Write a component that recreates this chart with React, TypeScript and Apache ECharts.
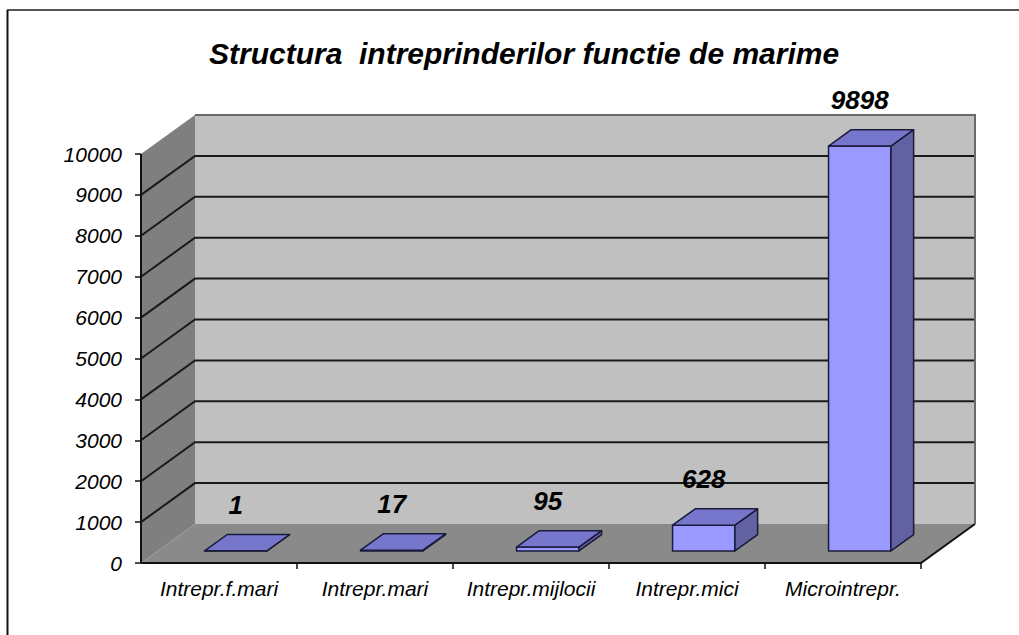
import React, { useEffect, useRef } from 'react';
import * as echarts from 'echarts';

const titleText = 'Structura  intreprinderilor functie de marime';
const categories = ['Intrepr.f.mari', 'Intrepr.mari', 'Intrepr.mijlocii', 'Intrepr.mici', 'Microintrepr.'];
const values = [1, 17, 95, 628, 9898];
const yMin = 0;
const yMax = 10000;
const yStep = 1000;

const FONT = "'Liberation Sans', Arial, sans-serif";
const DEPTH = [54, -39];
const BAR_FRONT = 0.31;
const BAR_BACK = 0.73;
const BAR_WIDTH = 0.4;
const LABEL_GAP = 46;

export default function App() {
  const ref = useRef<HTMLDivElement>(null);

  useEffect(() => {
    const chart = echarts.init(ref.current!, null, { renderer: 'svg' });
    const [dx, dy] = DEPTH;

    const wallsRender = (_params: any, api: any) => {
      const band = api.size([1, 0])[0];
      const n = categories.length;
      const x0 = api.coord([0, yMin])[0] - band / 2;
      const x1 = api.coord([n - 1, yMin])[0] + band / 2;
      const yOf = (v: number) => api.coord([0, v])[1];
      const y0 = yOf(yMin);
      const yTop = yOf(yMax);
      const children: any[] = [];
      children.push({
        type: 'polygon',
        shape: { points: [[x0, yTop], [x0 + dx, yTop + dy], [x0 + dx, y0 + dy], [x0, y0]] },
        style: { fill: '#7f7f7f' },
      });
      children.push({
        type: 'rect',
        shape: { x: x0 + dx, y: yTop + dy, width: x1 - x0, height: y0 - yTop },
        style: { fill: '#c0c0c0' },
      });
      children.push({
        type: 'polygon',
        shape: { points: [[x0, y0], [x1, y0], [x1 + dx, y0 + dy], [x0 + dx, y0 + dy]] },
        style: { fill: '#8a8a8a' },
      });
      for (let v = yMin + yStep; v < yMax; v += yStep) {
        const y = yOf(v);
        children.push({
          type: 'polyline',
          shape: { points: [[x0, y], [x0 + dx, y + dy], [x1 + dx, y + dy]] },
          style: { stroke: '#1a1a1a', lineWidth: 2, fill: 'none' },
        });
      }
      children.push({
        type: 'polyline',
        shape: { points: [[x0 + dx, yTop + dy], [x1 + dx, yTop + dy], [x1 + dx, y0 + dy]] },
        style: { stroke: '#6a6a6a', lineWidth: 2, fill: 'none' },
      });
      children.push({
        type: 'polyline',
        shape: { points: [[x0, y0], [x1, y0], [x1 + dx, y0 + dy]] },
        style: { stroke: '#111', lineWidth: 2, fill: 'none' },
      });
      children.push({
        type: 'line',
        shape: { x1: x0, y1: yTop, x2: x0, y2: y0 },
        style: { stroke: '#111', lineWidth: 2 },
      });
      for (let i = 1; i <= n; i++) {
        const x = x0 + i * band;
        children.push({
          type: 'line',
          shape: { x1: x, y1: y0, x2: x, y2: y0 + 6 },
          style: { stroke: '#111', lineWidth: 1.5 },
        });
      }
      return { type: 'group', children };
    };

    const barsRender = (_params: any, api: any) => {
      const i = api.value(0);
      const v = api.value(1);
      const band = api.size([1, 0])[0];
      const base = api.coord([i, yMin]);
      const top = api.coord([i, v]);
      const w = band * BAR_WIDTH;
      const fx = base[0] + dx * BAR_FRONT - w / 2;
      const fdy = dy * BAR_FRONT;
      const bx = dx * (BAR_BACK - BAR_FRONT);
      const by = dy * (BAR_BACK - BAR_FRONT);
      const yb = base[1] + fdy;
      const yt = top[1] + fdy;
      const stroke = { stroke: '#1a1a3a', lineWidth: 1.5, lineJoin: 'round' };
      return {
        type: 'group',
        children: [
          {
            type: 'polygon',
            shape: { points: [[fx, yb], [fx + w, yb], [fx + w, yt], [fx, yt]] },
            style: { fill: '#9999ff', ...stroke },
          },
          {
            type: 'polygon',
            shape: { points: [[fx + w, yb], [fx + w + bx, yb + by], [fx + w + bx, yt + by], [fx + w, yt]] },
            style: { fill: '#6262a3', ...stroke },
          },
          {
            type: 'polygon',
            shape: { points: [[fx, yt], [fx + w, yt], [fx + w + bx, yt + by], [fx + bx, yt + by]] },
            style: { fill: '#7676cc', ...stroke },
          },
          {
            type: 'text',
            style: {
              text: String(v),
              x: fx + w / 2,
              y: yt - LABEL_GAP,
              align: 'center',
              verticalAlign: 'middle',
              fontSize: 26,
              fontWeight: 'bold',
              fontStyle: 'italic',
              fontFamily: FONT,
              fill: '#000',
            },
          },
        ],
      };
    };

    chart.setOption({
      animation: false,
      backgroundColor: '#ffffff',
      title: {
        text: titleText,
        left: 204,
        top: 33,
        textStyle: {
          fontSize: 30,
          fontWeight: 'bold',
          fontStyle: 'italic',
          fontFamily: FONT,
          color: '#000',
        },
      },
      grid: { left: 141, right: 98, top: 154, bottom: 72 },
      xAxis: {
        type: 'category',
        data: categories,
        axisLine: { show: false },
        axisTick: { show: false },
        splitLine: { show: false },
        axisLabel: {
          margin: 15,
          fontSize: 21,
          fontStyle: 'italic',
          fontFamily: FONT,
          color: '#000',
          interval: 0,
        },
      },
      yAxis: {
        type: 'value',
        min: yMin,
        max: yMax,
        interval: yStep,
        z: 10,
        axisLine: { show: false },
        axisTick: { show: true, length: 6, lineStyle: { color: '#111', width: 1.5 } },
        splitLine: { show: false },
        axisLabel: {
          margin: 19,
          fontSize: 21,
          fontStyle: 'italic',
          fontFamily: FONT,
          color: '#000',
          formatter: (v: number) => String(v),
        },
      },
      graphic: [
        { type: 'line', shape: { x1: 7, y1: 10, x2: 1019, y2: 10 }, style: { stroke: '#555', lineWidth: 2 } },
        { type: 'line', shape: { x1: 7.5, y1: 10, x2: 7.5, y2: 635 }, style: { stroke: '#111', lineWidth: 2 } },
      ],
      series: [
        {
          type: 'custom',
          name: 'walls',
          renderItem: wallsRender,
          data: [[0, 0]],
          silent: true,
          clip: false,
          z: 1,
        },
        {
          type: 'custom',
          name: 'bars',
          renderItem: barsRender,
          data: values.map((v, i) => [i, v]),
          clip: false,
          z: 3,
        },
      ],
    });

    return () => chart.dispose();
  }, []);

  return (
    <div
      ref={ref}
      style={{ position: 'absolute', left: 0, top: 0, width: 1019, height: 635 }}
    />
  );
}
